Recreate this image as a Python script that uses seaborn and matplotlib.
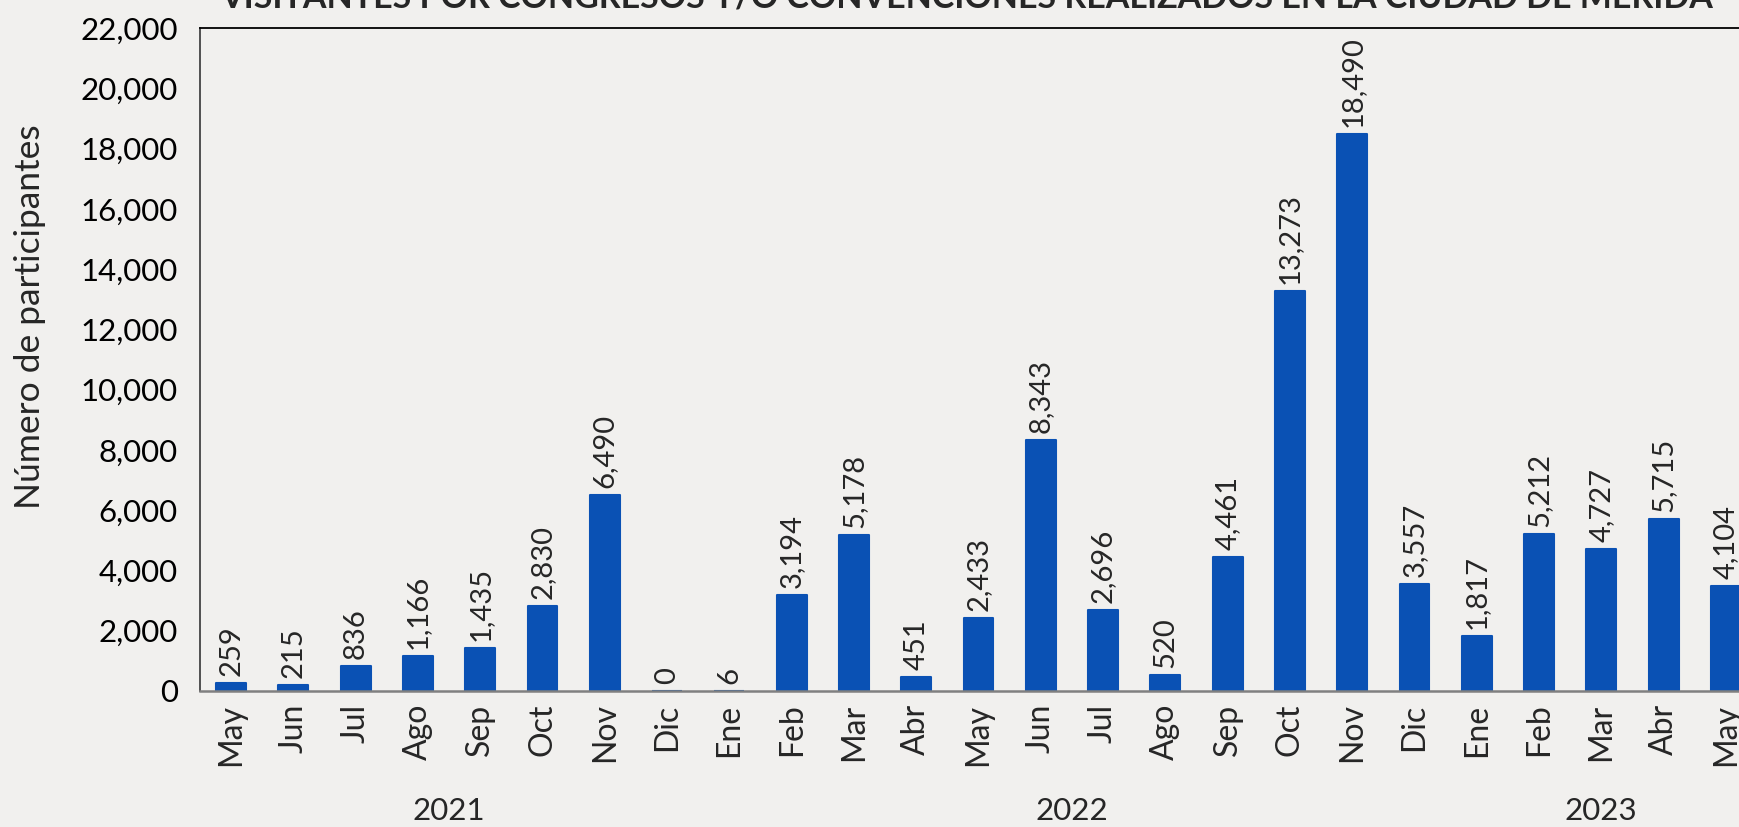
import pandas as pd
import seaborn as sns
import matplotlib.pyplot as plt
from matplotlib.ticker import FuncFormatter
from matplotlib.transforms import blended_transform_factory

# datos: visitantes por congresos y/o convenciones (mayo 2021 - mayo 2023)
meses = ["May", "Jun", "Jul", "Ago", "Sep", "Oct", "Nov", "Dic",
         "Ene", "Feb", "Mar", "Abr", "May", "Jun", "Jul", "Ago", "Sep", "Oct", "Nov", "Dic",
         "Ene", "Feb", "Mar", "Abr", "May"]
anios = ["2021", "2021", "2021", "2021", "2021", "2021", "2021", "2021",
         "2022", "2022", "2022", "2022", "2022", "2022", "2022", "2022", "2022", "2022", "2022", "2022",
         "2023", "2023", "2023", "2023", "2023"]
etiquetas = [259, 215, 836, 1166, 1435, 2830, 6490, 0,
             6, 3194, 5178, 451, 2433, 8343, 2696, 520, 4461, 13273, 18490, 3557,
             1817, 5212, 4727, 5715, 4104]
# altura de las barras como aparece en la imagen (la de mayo 2023 no coincide con su etiqueta)
barras = [259, 215, 836, 1166, 1435, 2830, 6490, 0,
          6, 3194, 5178, 451, 2433, 8343, 2696, 520, 4461, 13273, 18490, 3557,
          1817, 5212, 4727, 5715, 3500]
titulo = "VISITANTES POR CONGRESOS Y/O CONVENCIONES REALIZADOS EN LA CIUDAD DE MÉRIDA"

df = pd.DataFrame({"mes": meses, "anio": anios, "valor": barras, "etiqueta": etiquetas})
df["periodo"] = df["mes"] + " " + df["anio"]

sns.set_style("white")
plt.rcParams["font.family"] = ["Lato", "DejaVu Sans"]

bg = "#F1F0EE"
azul = "#0A51B4"

fig = plt.figure(figsize=(17.39, 8.27), dpi=100, facecolor=bg)
ax = fig.add_axes([200 / 1739, 136 / 827, 1557 / 1739, 663 / 827])
ax.set_facecolor(bg)

sns.barplot(data=df, x="periodo", y="valor", order=list(df["periodo"]),
            color=azul, saturation=1, width=0.48, ax=ax)
for p in ax.patches:
    p.set_edgecolor(azul)
    p.set_linewidth(1.5)
    p.set_joinstyle("round")

ax.set_xlim(-0.5, len(df) - 0.5)
ax.set_ylim(0, 22000)
ax.set_yticks(range(0, 22001, 2000))
ax.yaxis.set_major_formatter(FuncFormatter(lambda v, _: f"{int(v):,}"))
ax.tick_params(axis="y", length=8, width=1.2, color="#666666", pad=8, labelsize=22.5, labelcolor="black")
ax.set_xticks(range(len(df)))
ax.set_xticklabels(df["mes"], rotation=90, fontsize=23)
ax.tick_params(axis="x", length=0, pad=9)
ax.set_xlabel("")
ax.set_ylabel("Número de participantes", fontsize=25.5)
ax.yaxis.set_label_coords(-0.099, 0.565)

for s in ["left", "bottom", "top"]:
    ax.spines[s].set_visible(True)
ax.spines["right"].set_visible(False)
ax.spines["left"].set_color("#444444")
ax.spines["left"].set_linewidth(1.3)
ax.spines["bottom"].set_color("#808080")
ax.spines["bottom"].set_linewidth(1.8)
ax.spines["top"].set_color("black")
ax.spines["top"].set_linewidth(1.3)

# etiquetas de valor sobre cada barra
for i, row in df.iterrows():
    ax.annotate(f"{row['etiqueta']:,}", (i, row["valor"]), xytext=(0, 5),
                textcoords="offset points", rotation=90, ha="center", va="bottom",
                fontsize=21)

# años debajo de los meses
trans = blended_transform_factory(ax.transData, fig.transFigure)
for anio in ["2021", "2022", "2023"]:
    idx = df.index[df["anio"] == anio]
    centro = (idx.min() + idx.max()) / 2
    ax.text(centro, 16 / 827, anio, transform=trans,
            ha="center", va="center", fontsize=22.5)

fig.text(967 / 1739, 1.004, titulo, ha="center", va="center",
         fontsize=24.5, fontweight="bold")

fig.savefig("out.png", dpi=100, facecolor=bg)
